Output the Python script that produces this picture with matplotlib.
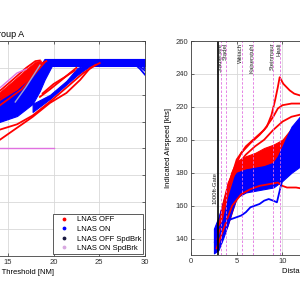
import matplotlib
matplotlib.use("Agg")
import matplotlib.pyplot as plt
from matplotlib.lines import Line2D

plt.rcParams['font.family'] = ['Liberation Sans', 'DejaVu Sans']

# ---------------- Left panel data (Group A) ----------------
left_title = "Group A"
xlabel = "Distance to Threshold [NM]"
ylabel_right = "Indicated Airspeed [kts]"

# blue band (LNAS ON) - steep part
bandA_x = [12, 14.1, 16.0, 17.7, 18.5, 19.0, 19.8, 30]
bandA_top = [209.5, 216.9, 223.6, 233.2, 241.4, 246.6, 246.6, 246.6]
bandA_bot = [194, 199.8, 204.2, 213.2, 223, 231.0, 241.4, 241.4]
# blue band - shallow part
bandB_x = [17.7, 19.6, 21.4, 22.6, 23.2, 24.0, 24.5]
bandB_top = [213.2, 219.9, 230.3, 239.9, 241.4, 241.4, 241.4]
bandB_bot = [207.2, 216.9, 227.6, 234.7, 237.7, 241.4, 241.4]

# red area above the blue band (LNAS OFF)
redA_x = [12, 14.1, 15.5, 17.0, 18.0, 18.6]
redA_top = [213, 222, 230, 239, 244.5, 245.5]
redA_bot = [208, 215.5, 220.5, 228.5, 237.5, 244]

# red curves (LNAS OFF)
redL1_x = [12, 14.1, 15.5, 17.0, 18.0, 18.5]
redL1_y = [214, 222.8, 231, 240, 245, 245.5]
redL2_x = [12, 14.1, 16.0, 17.5, 18.6, 19.2]
redL2_y = [208, 216, 224, 234, 243, 245]
redL3_x = [12, 14.1, 16.5, 18.0, 19.0]
redL3_y = [204, 212, 224, 236, 244]
redL4_x = [12, 14.1, 17.7, 19.6, 21.4, 22.9, 24.0, 25.05]
redL4_y = [180, 186.4, 203.5, 213.9, 221.3, 231.0, 239.9, 243.6]
redL5_x = [12, 14.1, 16.0, 17.7, 19.6, 21.4, 23.2, 24.6]
redL5_y = [188.5, 194, 198, 204.5, 214.8, 225.3, 235.9, 242.2]
redL6_x = [18.5, 19.6, 20.7, 21.8, 22.5]
redL6_y = [218.4, 224, 230, 236.2, 240]
redL7_x = [18.8, 20.0, 21.2, 22.3]
redL7_y = [221, 228, 233, 238]

# blue curves dropping at the right end
blueDrop1_x = [28.7, 29.5, 30]
blueDrop1_y = [244, 239, 235]
blueDrop2_x = [28.9, 30]
blueDrop2_y = [244, 238]
blueDrop3_x = [29.2, 30]
blueDrop3_y = [245, 240]

# speed-brake curves
magL_x = [12, 14.1, 16.0, 17.0]
magL_y = [218, 225, 236.2, 239]
magH_x = [0, 20]
magH_y = [180, 180]
lavL_x = [15.8, 17.0, 18.5]
lavL_y = [214.6, 226, 242]

# ---------------- Right panel data ----------------
blueR_up_x = [2.5, 3.0, 3.5, 4.0, 4.5, 5.0, 6.0, 7.0, 8.0, 9.0, 9.5, 10.0, 11.0, 12.5]
blueR_up_y = [146, 153, 162, 170, 176, 180, 182, 183, 184, 186, 190, 196, 208, 218]
blueR_lo_y = [131, 133, 140, 148, 157, 165, 168, 169, 170, 171, 173, 175, 180, 186]

redR_up_x = [2.6, 3.0, 4.0, 5.0, 6.0, 7.0, 8.0, 9.0, 10.0, 11.0, 12.5]
redR_up_y = [142, 152, 174, 187, 190, 192, 195, 197, 200, 207, 215]
redR_lo_y = [132, 136, 148, 165, 170, 172, 173, 174, 177, 183, 190]

redRA_x = [2.8, 3.5, 4.5, 5.5, 6.5, 7.5, 8.3, 8.8, 9.2, 9.5, 9.7, 10.1, 10.8, 11.3, 12.5]
redRA_y = [140, 160, 180, 192, 198, 203, 208, 215, 224, 232, 238, 234, 230, 228, 226]
redRB_x = [3, 4, 5, 6, 7, 8, 9, 9.5, 10, 11, 12.5]
redRB_y = [145, 170, 188, 196, 201, 206, 214, 219, 221, 222, 222]
redRC_x = [3, 4, 5, 6, 7, 8, 9, 10, 11, 12.5]
redRC_y = [143, 166, 184, 191, 196, 200, 206, 211, 214, 216]
redRD_x = [2.8, 3.5, 4.5, 5.5, 6.5, 7.5, 8.5, 9.5, 10.0, 10.5, 11.5, 12.5]
redRD_y = [134, 145, 160, 167, 170, 172, 173, 174, 172, 171, 171, 170]

blueRO_x = [2.6, 3.0, 3.5, 4.0, 4.5, 5.0, 5.5, 6.0, 6.5, 7.0, 7.5, 8.0, 8.5, 9.0, 9.4, 9.7, 10.0, 11.0, 12.5]
blueRO_y = [138, 146, 150, 151, 152, 153, 154, 156, 159, 160, 161, 163, 164, 163, 162, 169, 176, 183, 190]

gate_x = 3.0
gate_label = "1000ft-Gate"
station_x = [3.28, 3.83, 5.58, 6.78, 8.97, 9.74]
station_names = ["Stadlersee", "Stadel", "Weiach", "Kaiserstuhl", "Steinmaur", "Hasli"]

legend_labels = ["LNAS OFF", "LNAS ON", "LNAS OFF SpdBrk", "LNAS ON SpdBrk"]
legend_colors = ["#ff0000", "#0000ff", "#1a1a40", "#d8a8e0"]

RED = "#ff0000"
BLUE = "#0000ff"
MAG = "#e070e0"
LAV = "#a0a0d8"

fs = 5.5
fig = plt.figure(figsize=(3, 3), dpi=100)
axL = fig.add_axes([-0.43, 0.1467, 0.913, 0.7167])
axR = fig.add_axes([0.637, 0.15, 0.913, 0.7133])


def style(ax):
    ax.grid(True, color="#d8d8d8", lw=0.6)
    ax.set_axisbelow(True)
    ax.tick_params(direction="in", top=True, right=True, labelsize=fs,
                   length=2, width=0.5, colors="#303030", pad=2)
    for s in ax.spines.values():
        s.set_color("#404040")
        s.set_linewidth(0.6)


# Left panel
lw = 1.3
axL.fill_between(redA_x, redA_bot, redA_top, color=RED, lw=0.6, ec=RED)
for xs, ys in [(redL1_x, redL1_y), (redL2_x, redL2_y), (redL3_x, redL3_y),
               (redL4_x, redL4_y), (redL5_x, redL5_y)]:
    axL.plot(xs, ys, color=RED, lw=lw)
axL.plot(magL_x, magL_y, color=MAG, lw=1.0)
axL.fill_between(bandA_x, bandA_bot, bandA_top, color=BLUE, lw=0.8, ec=BLUE)
axL.fill_between(bandB_x, bandB_bot, bandB_top, color=BLUE, lw=0.8, ec=BLUE)
for xs, ys in [(redL6_x, redL6_y), (redL7_x, redL7_y)]:
    axL.plot(xs, ys, color=RED, lw=lw)
for xs, ys in [(blueDrop1_x, blueDrop1_y), (blueDrop2_x, blueDrop2_y), (blueDrop3_x, blueDrop3_y)]:
    axL.plot(xs, ys, color=BLUE, lw=lw)
axL.plot(lavL_x, lavL_y, color=LAV, lw=1.0)
axL.plot(magH_x, magH_y, color=MAG, lw=1.0)
axL.set_xlim(0, 30)
axL.set_ylim(100, 260)
axL.set_xticks(range(0, 31, 5))
axL.set_yticks(range(100, 261, 20))
style(axL)
axL.set_title(left_title, fontsize=6.5, pad=3)
axL.set_xlabel(xlabel, fontsize=fs, labelpad=2)
handles = [Line2D([], [], ls="none", marker=".", markersize=3.5, color=c) for c in legend_colors]
leg = axL.legend(handles, legend_labels, loc="lower right", fontsize=fs, fancybox=False,
                 framealpha=1, edgecolor="#404040", borderaxespad=0.2, handlelength=2.2,
                 handletextpad=0.6, labelspacing=0.3, borderpad=0.3)
leg.get_frame().set_linewidth(0.6)

# Right panel
axR.fill_between(redR_up_x, redR_lo_y, redR_up_y, color=RED, lw=0.8, ec=RED)
for xs, ys in [(redRA_x, redRA_y), (redRB_x, redRB_y), (redRC_x, redRC_y), (redRD_x, redRD_y)]:
    axR.plot(xs, ys, color=RED, lw=lw)
axR.fill_between(blueR_up_x, blueR_lo_y, blueR_up_y, color=BLUE, lw=0.8, ec=BLUE)
axR.plot(blueRO_x, blueRO_y, color=BLUE, lw=lw)
axR.axvline(gate_x, color="black", lw=1.2)
for sx, name in zip(station_x, station_names):
    axR.axvline(sx, color=MAG, lw=0.6, ls=(0, (3, 2)))
    axR.text(sx - 0.12, 259, name, rotation=90, ha="center", va="top", fontsize=4.3,
             color="#202020")
axR.text(gate_x - 0.35, 171, gate_label, rotation=90, ha="center", va="center",
         fontsize=4.3, color="#202020")
axR.set_xlim(0, 30)
axR.set_ylim(130, 260)
axR.set_xticks(range(0, 31, 5))
axR.set_yticks(range(140, 261, 20))
style(axR)
axR.set_xlabel(xlabel, fontsize=fs, labelpad=2)
axR.set_ylabel(ylabel_right, fontsize=fs, labelpad=3)

fig.savefig("out.png", dpi=100)
